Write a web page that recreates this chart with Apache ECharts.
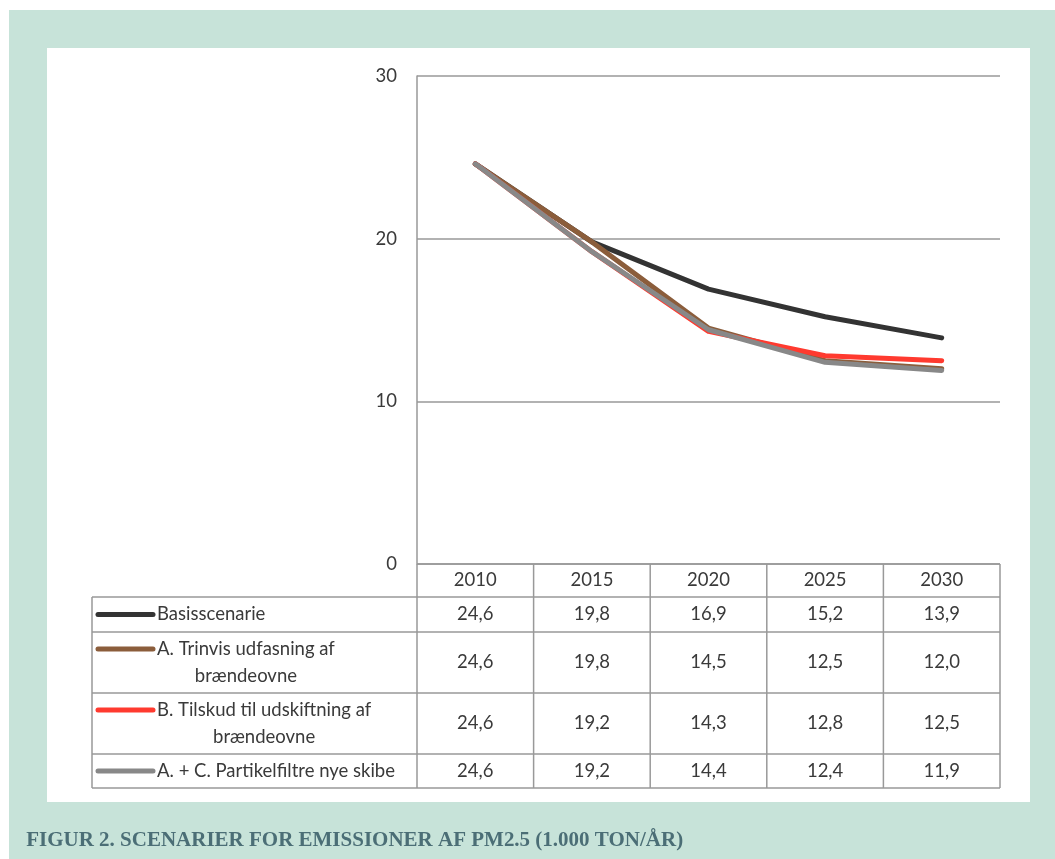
<!DOCTYPE html>
<html>
<head>
<meta charset="utf-8">
<title>Scenarier for emissioner af PM2.5</title>
<script src="https://cdn.jsdelivr.net/npm/echarts@6/dist/echarts.min.js"></script>
<style>
  html, body { margin: 0; padding: 0; background: #ffffff; }
  #frame { position: relative; width: 1055px; height: 859px; overflow: hidden; }
  #mint { position: absolute; left: 9px; top: 10px; right: 0; bottom: 0; background: #c7e3d9; }
  #panel { position: absolute; left: 47px; top: 48px; width: 983px; height: 754px; background: #ffffff; }
  #chart { position: absolute; left: 0; top: 0; width: 1055px; height: 859px; }
</style>
</head>
<body>
<div id="frame">
  <div id="mint"></div>
  <div id="panel"></div>
  <div id="chart"></div>
</div>
<script>
// Years on the category axis (also the table header)
const categories = ['2010', '2015', '2020', '2025', '2030'];

// PM2.5 emissions, 1.000 ton/år
const basisscenarie = [24.6, 19.8, 16.9, 15.2, 13.9];
const trinvisUdfasning = [24.6, 19.8, 14.5, 12.5, 12.0];
const tilskudUdskiftning = [24.6, 19.2, 14.3, 12.8, 12.5];
const partikelfiltre = [24.6, 19.2, 14.4, 12.4, 11.9];

// Row labels as they wrap in the data table
const seriesLabels = [
  'Basisscenarie',
  'A. Trinvis udfasning af\nbrændeovne',
  'B. Tilskud til udskiftning af\nbrændeovne',
  'A. + C. Partikelfiltre nye skibe'
];
const seriesData = [basisscenarie, trinvisUdfasning, tilskudUdskiftning, partikelfiltre];
const seriesColors = ['#333333', '#8b5d3b', '#ff3a2f', '#888888'];

const caption = 'FIGUR 2. SCENARIER FOR EMISSIONER AF PM2.5 (1.000 TON/ÅR)';

const TEXT = '#3a3a3a';
const RULE = '#999999';
const FONT = 'Lato, "Open Sans", sans-serif';
const FS = 18.5;

const chart = echarts.init(document.getElementById('chart'), null, { renderer: 'canvas' });

const option = {
  backgroundColor: 'transparent',
  animation: false,
  grid: { left: 417, right: 55, top: 76, bottom: 295, containLabel: false },
  xAxis: {
    type: 'category',
    data: categories,
    boundaryGap: true,
    axisLine: { show: false },
    axisTick: { show: false },
    axisLabel: { show: true, margin: 7, color: TEXT, fontSize: FS, fontFamily: FONT },
    splitLine: { show: false }
  },
  yAxis: {
    type: 'value',
    min: 0,
    max: 30,
    interval: 10,
    axisLine: { show: true, lineStyle: { color: RULE, width: 1.5 } },
    axisTick: { show: false },
    axisLabel: { margin: 20, color: TEXT, fontSize: FS, fontFamily: FONT },
    splitLine: { show: true, lineStyle: { color: RULE, width: 1.5 } }
  },
  series: seriesData.map((d, i) => ({
    type: 'line',
    name: seriesLabels[i].replace('\n', ' '),
    data: d,
    symbol: 'none',
    z: 3 + i,
    lineStyle: { color: seriesColors[i], width: 5, cap: 'round', join: 'round' },
    itemStyle: { color: seriesColors[i] }
  }))
};

chart.setOption(option);

// Data table drawn under the plot, aligned with the category bands
const measure = document.createElement('canvas').getContext('2d');
const bodyFont = FS + 'px ' + FONT;
measure.font = bodyFont;

const c0 = chart.convertToPixel({ xAxisIndex: 0 }, 0);
const c1 = chart.convertToPixel({ xAxisIndex: 0 }, 1);
const band = c1 - c0;
const tableLeft = 92;
const colEdges = categories.map((_, i) => c0 - band / 2 + i * band);
const tableRight = c0 - band / 2 + categories.length * band;
colEdges.push(tableRight);
const yBase = chart.convertToPixel({ yAxisIndex: 0 }, 0);

const rowHeights = [33, 35, 61, 61, 34];
const rowTops = [yBase];
rowHeights.forEach(h => rowTops.push(rowTops[rowTops.length - 1] + h));

const lineH = 27;
const keyLeft = 98, keyRight = 153, textLeft = 157;
const g = [];
const ls = { stroke: RULE, lineWidth: 1.5 };

// horizontal rules
g.push({ type: 'line', shape: { x1: colEdges[0], y1: rowTops[0], x2: tableRight, y2: rowTops[0] }, style: ls, z: 1 });
for (let r = 1; r < rowTops.length; r++) {
  g.push({ type: 'line', shape: { x1: tableLeft, y1: rowTops[r], x2: tableRight, y2: rowTops[r] }, style: ls, z: 1 });
}
// vertical rules
g.push({ type: 'line', shape: { x1: tableLeft, y1: rowTops[1], x2: tableLeft, y2: rowTops[rowTops.length - 1] }, style: ls, z: 1 });
colEdges.forEach(x => {
  g.push({ type: 'line', shape: { x1: x, y1: rowTops[0], x2: x, y2: rowTops[rowTops.length - 1] }, style: ls, z: 1 });
});

seriesData.forEach((d, s) => {
  const top = rowTops[s + 1], bottom = rowTops[s + 2];
  const mid = (top + bottom) / 2;
  const lines = seriesLabels[s].split('\n');
  const firstY = mid - (lines.length - 1) * lineH / 2;
  const firstW = measure.measureText(lines[0]).width;
  const centerX = textLeft + firstW / 2;
  // legend key
  g.push({ type: 'line', shape: { x1: keyLeft, y1: firstY, x2: keyRight, y2: firstY },
    style: { stroke: seriesColors[s], lineWidth: 5, lineCap: 'round' }, z: 2 });
  lines.forEach((t, k) => {
    g.push({ type: 'text', x: centerX, y: firstY + k * lineH,
      style: { text: t, fill: TEXT, font: bodyFont, textAlign: 'center', textVerticalAlign: 'middle' }, z: 2 });
  });
  // values
  d.forEach((v, i) => {
    g.push({ type: 'text', x: colEdges[i] + band / 2, y: mid,
      style: { text: v.toFixed(1).replace('.', ','), fill: TEXT, font: bodyFont,
        textAlign: 'center', textVerticalAlign: 'middle' }, z: 2 });
  });
});

// figure caption: tall bold serif, condensed to its column width
const capFont = 'bold 22px "Liberation Serif", "DejaVu Serif", serif';
measure.font = capFont;
const capW = measure.measureText(caption).width;
const capTargetW = 657;
g.push({ type: 'text', x: 25, y: 840, scaleX: capTargetW / capW, originX: 25, originY: 840,
  style: { text: caption, fill: '#4b6e76', font: capFont,
    textAlign: 'left', textVerticalAlign: 'middle' }, z: 2 });

chart.setOption({ graphic: g });
</script>
</body>
</html>
